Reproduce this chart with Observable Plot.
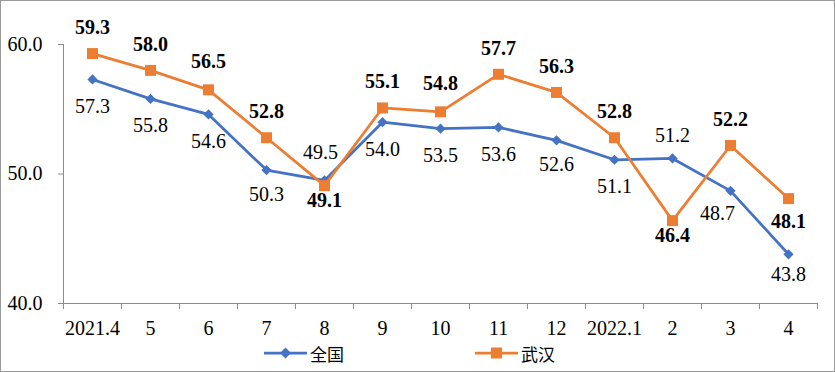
<!DOCTYPE html>
<html>
<head>
<meta charset="utf-8">
<script src="https://cdn.jsdelivr.net/npm/d3@7"></script>
<script src="https://cdn.jsdelivr.net/npm/@observablehq/plot@0.6"></script>
<style>
  html, body { margin: 0; padding: 0; background: #fff; }
  #wrap { position: relative; width: 835px; height: 372px; overflow: hidden; }
  #frame { position: absolute; left: 0; top: 0; width: 835px; height: 372px; box-sizing: border-box; border: 1px solid #9a9a9a; pointer-events: none; }
  #chart { position: absolute; left: 0; top: 0; }
  #chart svg, #chart svg text { font-family: "Liberation Serif", "Times New Roman", serif !important; }
  .leg { position: absolute; top: 341px; height: 24px; display: flex; align-items: center; font-family: "Noto Sans CJK SC", sans-serif; font-size: 17px; color: #000; }
  .leg svg { display: block; margin-right: 3px; }
</style>
</head>
<body>
<div id="wrap">
  <div id="chart"></div>
  <div class="leg" style="left:264px">
    <svg width="43" height="24"><line x1="0" y1="12" x2="43" y2="12" stroke="#4472C4" stroke-width="2.75"/><path d="M21.5,6.5L27,12L21.5,17.5L16,12Z" fill="#4472C4"/></svg>
    <span>全国</span>
  </div>
  <div class="leg" style="left:475px">
    <svg width="43" height="24"><line x1="0" y1="12" x2="43" y2="12" stroke="#ED7D31" stroke-width="2.75"/><rect x="16" y="6.5" width="11" height="11" fill="#ED7D31"/></svg>
    <span>武汉</span>
  </div>
  <div id="frame"></div>
</div>
<script>
// ---- data ----
const months = ["2021.4", "5", "6", "7", "8", "9", "10", "11", "12", "2022.1", "2", "3", "4"];
const national = [57.3, 55.8, 54.6, 50.3, 49.5, 54.0, 53.5, 53.6, 52.6, 51.1, 51.2, 48.7, 43.8];
const wuhan = [59.3, 58.0, 56.5, 52.8, 49.1, 55.1, 54.8, 57.7, 56.3, 52.8, 46.4, 52.2, 48.1];
const yTicks = [40, 50, 60];

// ---- styling ----
const blue = "#4472C4", orange = "#ED7D31", axisColor = "#8c8c8c";
const yDom = [40, 60];
const xDom = [-0.5, months.length - 0.5];

// label offsets (styling only)
const natOffsets = {3: [0, 24], 4: [-4, -28], 8: [0, 24], 10: [0, -23], 11: [-13, 23], 12: [0, 20]};
const whOffsets = {2: [0, -28], 4: [0, 15], 6: [0, -28], 10: [0, 15], 12: [0, 23]};

const natRows = months.map((m, i) => ({i, m, v: national[i], off: natOffsets[i] || [0, 27]}));
const whRows = months.map((m, i) => ({i, m, v: wuhan[i], off: whOffsets[i] || [0, -26]}));

function labelMarks(rows, fontWeight) {
  const groups = d3.groups(rows, d => d.off.join(","));
  return groups.map(([key, g]) => Plot.text(g, {
    x: "i", y: "v", text: d => d.v.toFixed(1),
    dx: g[0].off[0], dy: g[0].off[1],
    fill: "black", fontSize: 20, fontWeight
  }));
}

const plot = Plot.plot({
  width: 835,
  height: 372,
  marginLeft: 63,
  marginRight: 18,
  marginTop: 44,
  marginBottom: 69,
  style: {fontFamily: "'Liberation Serif', 'Times New Roman', serif", fontSize: "20px", background: "transparent", color: "black"},
  x: {type: "linear", domain: xDom},
  y: {domain: yDom},
  marks: [
    Plot.ruleX([xDom[0]], {y1: yDom[0], y2: yDom[1], stroke: axisColor}),
    Plot.ruleY([yDom[0]], {stroke: axisColor}),
    Plot.axisY({ticks: yTicks, tickFormat: d => d.toFixed(1), tickSize: 5, tickPadding: 16, stroke: axisColor, fill: "black", label: null, fontSize: 20}),
    Plot.axisX({ticks: d3.range(-0.5, months.length, 1), tickFormat: () => "", tickSize: 6, stroke: axisColor, label: null}),
    Plot.axisX({ticks: d3.range(months.length), tickFormat: i => months[i], tickSize: 0, tickPadding: 17, fill: "black", label: null, fontSize: 20}),
    Plot.line(natRows, {x: "i", y: "v", stroke: blue, strokeWidth: 2.75}),
    Plot.dot(natRows, {x: "i", y: "v", symbol: "diamond2", r: 4.6, fill: blue, stroke: "none"}),
    Plot.line(whRows, {x: "i", y: "v", stroke: orange, strokeWidth: 2.75}),
    Plot.dot(whRows, {x: "i", y: "v", symbol: "square", r: 6.2, fill: orange, stroke: "none"}),
    ...labelMarks(natRows, "normal"),
    ...labelMarks(whRows, "bold")
  ]
});
document.getElementById("chart").appendChild(plot);
</script>
</body>
</html>
